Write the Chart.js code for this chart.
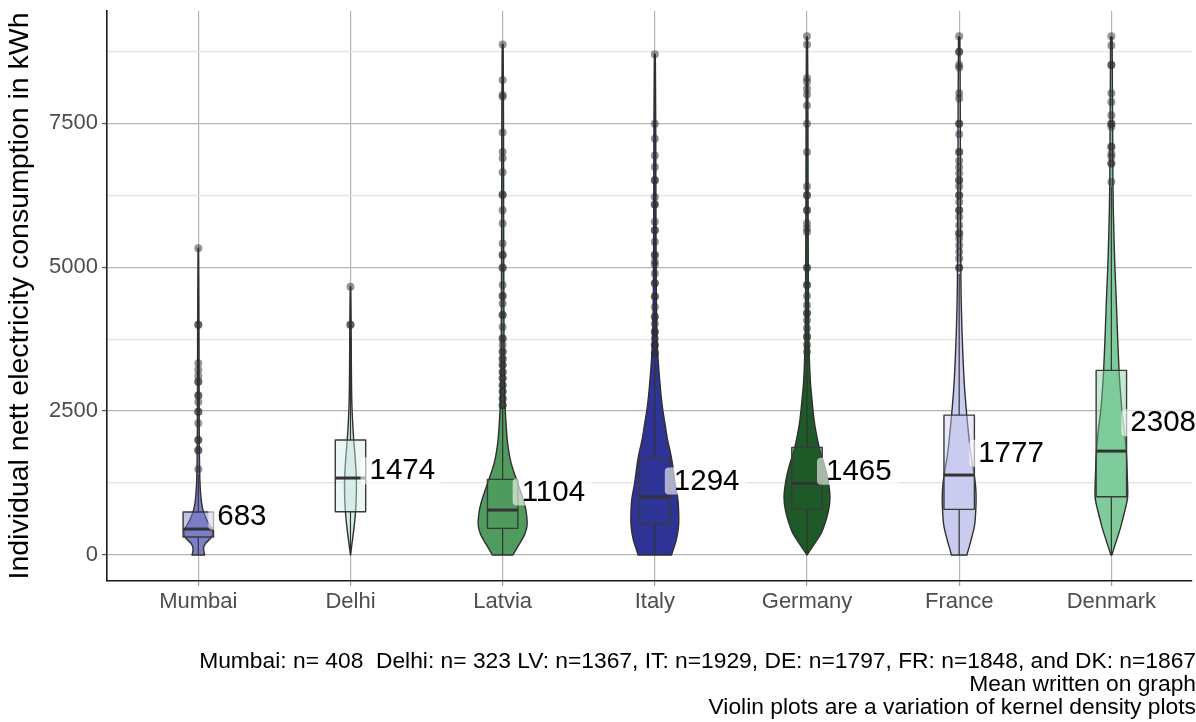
<!DOCTYPE html>
<html>
<head>
<meta charset="utf-8">
<script src="https://cdn.jsdelivr.net/npm/chart.js@4.4.1/dist/chart.umd.min.js"></script>
<style>
  html, body { margin: 0; padding: 0; background: #fff; overflow: hidden; }
  #wrap { width: 1196px; height: 722px; position: relative; }
</style>
</head>
<body>
<div id="wrap"><canvas id="chart"></canvas></div>
<script>
// ---- data ----
const categories = ['Mumbai', 'Delhi', 'Latvia', 'Italy', 'Germany', 'France', 'Denmark'];
const fillColors = ['#7b7fc6', '#d4ede9', '#4f9c5e', '#2f3396', '#1e5a27', '#c9cbef', '#7fcb9b'];

// box plot statistics (kWh)
const q1Values      = [312, 752, 463, 538, 793, 793, 1012];
const medianValues  = [451, 1337, 781, 1012, 1245, 1389, 1805];
const q3Values      = [747, 1997, 1314, 1678, 1870, 2430, 3207];
const whiskerLow    = [0, 0, 0, 0, 0, 0, 0];
const whiskerHigh   = [1400, 3800, 2590, 3390, 3480, 4880, 6400];
const meanValues    = [683, 1474, 1104, 1294, 1465, 1777, 2308];
const dataMax       = [5330, 4660, 8870, 8700, 9000, 9000, 9000];

// kernel density estimate (relative half-width) at each consumption level
const densityLevels = [0, 100, 200, 300, 400, 500, 600, 800, 1000, 1200, 1400, 1600, 1800, 2000, 2250, 2500, 2750, 3000, 3500, 4000, 4500, 5000, 6000, 7000, 8000, 9000];
const densityMumbai  = [6.3, 4.8, 6.5, 13.5, 15, 12, 8.5, 4, 2.6, 1.8, 1.4, 1.2, 1.1, 1, 0.9, 0.9, 0.8, 0.8, 0.7, 0.7, 0.5, 0.4];
const densityDelhi   = [0, 0.8, 1.5, 2.3, 3, 3.7, 4.3, 5.3, 5.8, 6, 5.8, 5, 4.2, 3.2, 2.3, 1.6, 1.2, 1, 0.8, 0.7, 0.4];
const densityLatvia  = [10.3, 13.5, 17, 20.5, 23, 24.5, 24.5, 23.3, 20, 16, 12, 8.2, 6, 4.5, 3.5, 2.6, 2, 1.7, 1.4, 1.3, 1.2, 1.1, 1, 0.9, 0.8];
const densityItaly   = [16.7, 18.5, 20.5, 22, 23, 23.7, 24, 23.8, 23, 20.5, 19, 17.5, 15.5, 12.5, 10.5, 8, 6.3, 5, 2.7, 1.8, 1.5, 1.3, 1.1, 1, 0.8];
const densityGermany = [0, 3.8, 7.7, 11.5, 15, 17, 19, 22, 23.3, 22, 20, 17, 13, 10.5, 7.7, 6, 4.7, 3.3, 2.1, 1.6, 1.4, 1.3, 1.1, 1, 0.9];
const densityFrance  = [7.7, 9.3, 11, 12.5, 14, 15.3, 16, 16.7, 17, 16.5, 15, 13, 11.2, 10, 8.5, 7.2, 6, 5, 3.6, 2.6, 1.9, 1.6, 1.3, 1.2, 1.1];
const densityDenmark = [0.5, 2.3, 4.2, 6, 7.9, 9.6, 11, 14, 16.6, 16.2, 15.9, 15.5, 14.9, 14, 12.5, 10.5, 9.5, 8.3, 6.9, 5.8, 4.8, 3.5, 1.8, 1.3, 1.2];
const densities = [densityMumbai, densityDelhi, densityLatvia, densityItaly, densityGermany, densityFrance, densityDenmark];

// outlying households (kWh)
const outliersMumbai  = [5330, 4000, 4000, 3330, 3220, 3110, 3010, 3010, 2770, 2770, 2660, 2490, 2490, 2290, 2000, 2000, 1820, 1820, 1490];
const outliersDelhi   = [4660, 4000, 4000];
const outliersLatvia  = [8870, 8250, 7990, 7960, 7340, 7000, 6890, 6650, 6260, 6260, 5990, 5760, 5410, 5210, 5210, 4990, 4990, 4690, 4500, 4500, 4370, 4170, 4170, 3960, 3760, 3760, 3650, 3530, 3530, 3410, 3410, 3300, 3300, 3180, 3180, 3070, 3070, 2950, 2950, 2840, 2840, 2720, 2720, 2600, 2600];
const outliersItaly   = [8700, 7490, 7230, 6940, 6740, 6510, 6510, 6220, 6090, 6090, 5790, 5640, 5640, 5440, 5210, 5210, 5100, 5040, 4890, 4720, 4720, 4490, 4490, 4310, 4140, 4140, 4020, 3880, 3880, 3760, 3650, 3650, 3500, 3500];
const outliersGermany = [9010, 8870, 8280, 8220, 8100, 8000, 7810, 7490, 7000, 6400, 6250, 6250, 5990, 5990, 5760, 5670, 5610, 4990, 4990, 4690, 4690, 4500, 4340, 4200, 4200, 4080, 3940, 3790, 3790, 3650, 3530];
const outliersFrance  = [9010, 8740, 8740, 8510, 8470, 8020, 7930, 7490, 7490, 7310, 7000, 7000, 6850, 6740, 6630, 6510, 6510, 6400, 6250, 6250, 6130, 5990, 5990, 5870, 5730, 5590, 5590, 5500, 5380, 5270, 5150, 4990, 4990];
const outliersDenmark = [9010, 8850, 8510, 8510, 8020, 7870, 7640, 7490, 7490, 7440, 7090, 7090, 6970, 6920, 6800, 6800, 6480];
const outliers = [outliersMumbai, outliersDelhi, outliersLatvia, outliersItaly, outliersGermany, outliersFrance, outliersDenmark];

const yMajorTicks = [0, 2500, 5000, 7500];
const yMinorTicks = [1250, 3750, 6250, 8750];
const yAxisTitle = 'Individual nett electricity consumption in kWh';
const captionLines = [
  'Mumbai: n= 408  Delhi: n= 323 LV: n=1367, IT: n=1929, DE: n=1797, FR: n=1848, and DK: n=1867',
  'Mean written on graph',
  'Violin plots are a variation of kernel density plots'
];

// ---- drawing helpers ----
const FONT = '"Liberation Sans", Arial, Helvetica, sans-serif';
const densityToWidth = 1 / 152;   // density units -> category units
const boxHalfWidth = 0.1;

function withAlpha(hex, a) {
  const n = parseInt(hex.slice(1), 16);
  return `rgba(${(n >> 16) & 255},${(n >> 8) & 255},${n & 255},${a})`;
}

function smoothPath(ctx, pts, start) {
  if (start) ctx.moveTo(pts[0].x, pts[0].y); else ctx.lineTo(pts[0].x, pts[0].y);
  for (let k = 1; k < pts.length - 1; k++) {
    const mx = (pts[k].x + pts[k + 1].x) / 2, my = (pts[k].y + pts[k + 1].y) / 2;
    ctx.quadraticCurveTo(pts[k].x, pts[k].y, mx, my);
  }
  const last = pts[pts.length - 1];
  ctx.lineTo(last.x, last.y);
}

const violinBoxPlugin = {
  id: 'violinBox',
  beforeDatasetsDraw(chart) {
    const { ctx, chartArea, scales: { x, y } } = chart;
    ctx.save();
    ctx.beginPath();
    ctx.rect(chartArea.left, chartArea.top, chartArea.width, chartArea.height);
    ctx.clip();

    // violins
    categories.forEach((name, i) => {
      const dens = densities[i];
      const pts = [];
      for (let k = 0; k < densityLevels.length && k < dens.length; k++) {
        if (densityLevels[k] >= dataMax[i]) break;
        pts.push([densityLevels[k], dens[k]]);
      }
      pts.push([dataMax[i], pts[pts.length - 1][1] * 0.6]);
      const right = pts.map(([v, d]) => ({ x: x.getPixelForValue(i + d * densityToWidth), y: y.getPixelForValue(v) }));
      const left = pts.map(([v, d]) => ({ x: x.getPixelForValue(i - d * densityToWidth), y: y.getPixelForValue(v) })).reverse();
      ctx.beginPath();
      smoothPath(ctx, right, true);
      smoothPath(ctx, left, false);
      ctx.closePath();
      ctx.fillStyle = fillColors[i];
      ctx.fill();
      ctx.lineWidth = 1.4;
      ctx.strokeStyle = '#303030';
      ctx.lineJoin = 'round';
      ctx.stroke();
    });

    // box plots
    categories.forEach((name, i) => {
      const xc = x.getPixelForValue(i);
      const xl = x.getPixelForValue(i - boxHalfWidth);
      const xr = x.getPixelForValue(i + boxHalfWidth);
      const yq1 = y.getPixelForValue(q1Values[i]);
      const yq3 = y.getPixelForValue(q3Values[i]);
      const ymed = y.getPixelForValue(medianValues[i]);
      ctx.strokeStyle = '#333333';
      ctx.lineWidth = 1.2;
      ctx.beginPath();
      ctx.moveTo(xc, y.getPixelForValue(whiskerLow[i])); ctx.lineTo(xc, yq1);
      ctx.moveTo(xc, yq3); ctx.lineTo(xc, y.getPixelForValue(whiskerHigh[i]));
      ctx.stroke();
      ctx.fillStyle = withAlpha(fillColors[i], 0.45);
      ctx.fillRect(xl, yq3, xr - xl, yq1 - yq3);
      ctx.strokeStyle = '#3a3a3a';
      ctx.lineWidth = 1.4;
      ctx.strokeRect(xl, yq3, xr - xl, yq1 - yq3);
      ctx.lineWidth = 3;
      ctx.strokeStyle = '#333333';
      ctx.beginPath();
      ctx.moveTo(xl, ymed); ctx.lineTo(xr, ymed);
      ctx.stroke();
    });
    ctx.restore();
  },
  afterDatasetsDraw(chart) {
    const { ctx, scales: { x, y } } = chart;
    ctx.save();
    ctx.font = '29.5px ' + FONT;
    ctx.textBaseline = 'middle';
    ctx.textAlign = 'left';
    meanValues.forEach((m, i) => {
      const xc = x.getPixelForValue(i);
      const ym = y.getPixelForValue(m);
      const label = String(m);
      const w = ctx.measureText(label).width;
      ctx.fillStyle = 'rgba(255,255,255,0.6)';
      ctx.beginPath();
      ctx.roundRect(xc + 10, ym - 13, w + 16, 27, 4);
      ctx.fill();
      ctx.fillStyle = '#000000';
      ctx.fillText(label, xc + 19, ym + 1);
    });
    ctx.restore();
  }
};

const pointData = [];
outliers.forEach((list, i) => list.forEach(v => pointData.push({ x: i, y: v })));

Chart.defaults.font.family = FONT;

new Chart(document.getElementById('chart'), {
  type: 'scatter',
  data: {
    datasets: [{
      data: pointData,
      pointRadius: 4,
      pointHoverRadius: 4,
      pointBackgroundColor: 'rgba(45,45,45,0.5)',
      pointBorderWidth: 0
    }]
  },
  options: {
    responsive: true,
    maintainAspectRatio: false,
    animation: false,
    layout: { padding: { top: 11, left: 0, right: 0, bottom: 0 } },
    plugins: {
      legend: { display: false },
      tooltip: { enabled: false },
      subtitle: {
        display: true,
        position: 'bottom',
        align: 'end',
        text: captionLines,
        color: '#000000',
        font: { size: 22.8, family: FONT, lineHeight: 1.01 },
        padding: { top: 6, bottom: 3 }
      }
    },
    scales: {
      x: {
        type: 'linear',
        min: -0.6,
        max: 6.53,
        afterBuildTicks: s => { s.ticks = categories.map((c, i) => ({ value: i })); },
        afterFit: s => { s.height = 63; s.paddingLeft = 0; s.paddingRight = 0; },
        ticks: {
          callback: v => categories[v],
          color: '#4d4d4d',
          font: { size: 22 },
          padding: 3,
          maxRotation: 0,
          autoSkip: false
        },
        grid: { color: '#b5b5b5', lineWidth: 1.2, tickLength: 5, tickColor: '#9a9a9a' },
        border: { display: true, color: '#1a1a1a', width: 1.6 }
      },
      y: {
        type: 'linear',
        min: -450,
        max: 9450,
        afterBuildTicks: s => {
          s.ticks = yMajorTicks.concat(yMinorTicks).sort((a, b) => a - b).map(v => ({ value: v }));
        },
        afterFit: s => { s.width = 107; s.paddingTop = 0; s.paddingBottom = 0; },
        ticks: {
          callback: v => (yMajorTicks.includes(v) ? String(v) : ''),
          color: '#4d4d4d',
          font: { size: 22 },
          padding: 4
        },
        grid: {
          color: c => (c.tick && yMinorTicks.includes(c.tick.value) ? '#e4e4e4' : '#b5b5b5'),
          lineWidth: 1.2,
          tickLength: 5,
          tickColor: c => (c.tick && yMinorTicks.includes(c.tick.value) ? 'rgba(0,0,0,0)' : '#555555')
        },
        border: { display: true, color: '#1a1a1a', width: 1.6 },
        title: {
          display: true,
          text: yAxisTitle,
          color: '#000000',
          font: { size: 28.5 },
          padding: { top: 3, bottom: 0 }
        }
      }
    }
  },
  plugins: [violinBoxPlugin]
});
</script>
</body>
</html>
